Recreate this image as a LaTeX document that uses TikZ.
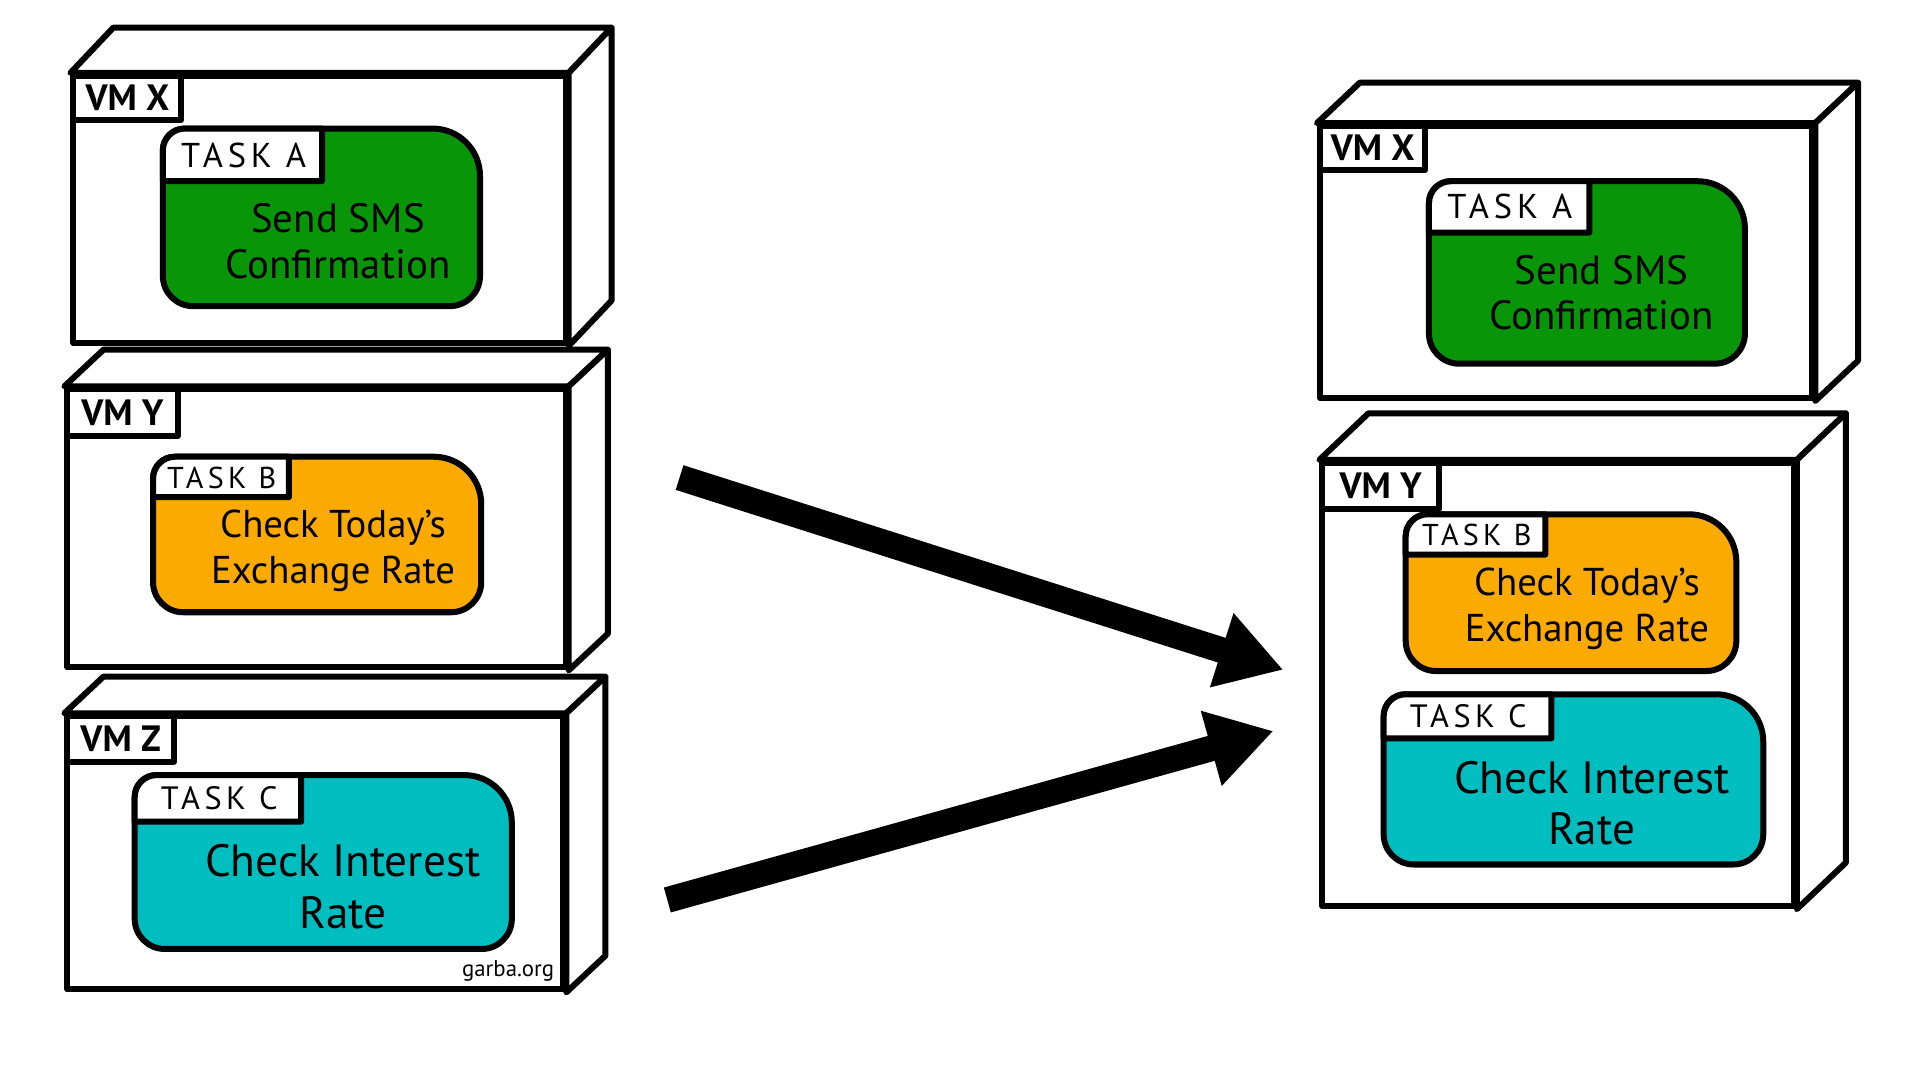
\documentclass[tikz,border=0pt]{standalone}
\usepackage{fontspec}
\setmainfont{PT Sans}
\newfontfamily\tabfont[LetterSpace=14]{PT Sans}
\usetikzlibrary{calc,fit,arrows.meta}
\definecolor{taskgreen}{RGB}{8,150,8}
\definecolor{taskorange}{RGB}{250,170,0}
\definecolor{taskcyan}{RGB}{0,190,192}
\tikzset{
  vmline/.style={draw=black, line width=1.4pt, line join=round, fill=white},
  vmface/.style={vmline, inner sep=0pt, rectangle},
  vmlabel/.style={vmline, anchor=north west, inner sep=0pt, font=\bfseries\fontsize{8.5}{10}\selectfont},
  blobbox/.style={inner sep=0pt, outer sep=0pt},
  blobline/.style={draw=black, line width=1.4pt, line join=round},
  tabline/.style={draw=black, line width=1.4pt, fill=white, line join=round},
  tabtext/.style={inner sep=0pt},
  tasktext/.style={align=center, inner sep=0pt},
  bigarrow/.style={line width=6pt, -{Triangle[length=15pt,width=17pt]}},
  credit/.style={font=\fontsize{5.3}{6}\selectfont, inner sep=0pt},
}
\newcommand\vmbox[4]{%
  \node[vmface, fit={#2 #3}] (#1) {};
  \draw[vmline] (#1.north west) -- ($(#1.north west)+#4$) -- ($(#1.north east)+#4$) -- (#1.north east) -- cycle;
  \draw[vmline] (#1.north east) -- ($(#1.north east)+#4$) -- ($(#1.south east)+#4$) -- (#1.south east) -- cycle;
}
\newcommand\taskblob[6]{%
  \node[blobbox, fit={#3 #4}] (#1) {};
  \draw[blobline, fill=#2] (#1.west) [rounded corners=5pt] -- (#1.north west) [rounded corners=11pt] -- (#1.north east) [rounded corners=7pt] -- (#1.south east) -- (#1.south west) -- cycle;
  \draw[tabline] ($(#1.north west)+(0,#6)$) -- ($(#1.north west)+(0,18)$) arc[start angle=180, end angle=270, radius=18] -- ($(#1.north west)+(#5,0)$) -- ($(#1.north west)+(#5,#6)$) -- cycle;
}
\begin{document}
\begin{tikzpicture}[x=0.01cm, y=-0.01cm]
\fill[white] (0,0) rectangle (1568,882);
\useasboundingbox (0,0) rectangle (1568,882);

% ---------- left column ----------
\vmbox{vmxL}{(60,62)}{(462,280)}{(35,-37)}
\node[vmlabel, minimum width=0.88cm, minimum height=0.36cm] (vmxLlab) at (vmxL.north west) {VM X};
\taskblob{taL}{taskgreen}{(133,105)}{(392,250)}{130}{43}
\node[tabtext, font=\tabfont\fontsize{8}{9}\selectfont] (taLtab) at ($(taL.north west)+(66,22)$) {TASK A};
\node[tasktext, font=\fontsize{9.5}{10.6}\selectfont] (taLtxt) at (276,197) {Send SMS\\Confirmation};

\vmbox{vmyL}{(55,318)}{(462,545)}{(32,-30)}
\node[vmlabel, minimum width=0.90cm, minimum height=0.38cm] (vmyLlab) at (vmyL.north west) {VM Y};
\taskblob{tbL}{taskorange}{(125,373)}{(393,500)}{111}{33}
\node[tabtext, font=\tabfont\fontsize{7}{8}\selectfont] (tbLtab) at ($(tbL.north west)+(56,17)$) {TASK B};
\node[tasktext, font=\fontsize{9}{10.8}\selectfont] (tbLtxt) at (272,450) {Check Today's\\Exchange Rate};

\vmbox{vmzL}{(55,585)}{(460,808)}{(32,-30)}
\node[vmlabel, minimum width=0.87cm, minimum height=0.37cm] (vmzLlab) at (vmzL.north west) {VM Z};
\taskblob{tcL}{taskcyan}{(110,633)}{(418,775)}{136}{38}
\node[tabtext, font=\tabfont\fontsize{7.5}{8.5}\selectfont] (tcLtab) at ($(tcL.north west)+(69,19)$) {TASK C};
\node[tasktext, font=\fontsize{10.5}{12}\selectfont] (tcLtxt) at (280,724) {Check Interest\\Rate};
\node[credit] (credit) at (415,793) {garba.org};

% ---------- right column ----------
\vmbox{vmxR}{(1078,103)}{(1480,325)}{(35,-33)}
\node[vmlabel, minimum width=0.86cm, minimum height=0.36cm] (vmxRlab) at (vmxR.north west) {VM X};
\taskblob{taR}{taskgreen}{(1167,148)}{(1425,297)}{131}{42}
\node[tabtext, font=\tabfont\fontsize{8}{9}\selectfont] (taRtab) at ($(taR.north west)+(66,21)$) {TASK A};
\node[tasktext, font=\fontsize{9.5}{10.6}\selectfont] (taRtxt) at (1308,239) {Send SMS\\Confirmation};

\vmbox{vmyR}{(1080,378)}{(1465,740)}{(40,-38)}
\node[vmlabel, minimum width=0.95cm, minimum height=0.38cm] (vmyRlab) at (vmyR.north west) {VM Y};
\taskblob{tbR}{taskorange}{(1148,420)}{(1418,548)}{114}{33}
\node[tabtext, font=\tabfont\fontsize{7}{8}\selectfont] (tbRtab) at ($(tbR.north west)+(58,17)$) {TASK B};
\node[tasktext, font=\fontsize{9}{10.8}\selectfont] (tbRtxt) at (1296,497) {Check Today's\\Exchange Rate};
\taskblob{tcR}{taskcyan}{(1130,567)}{(1440,706)}{137}{36}
\node[tabtext, font=\tabfont\fontsize{7.5}{8.5}\selectfont] (tcRtab) at ($(tcR.north west)+(69,18)$) {TASK C};
\node[tasktext, font=\fontsize{10.5}{12}\selectfont] (tcRtxt) at (1300,656) {Check Interest\\Rate};

% ---------- arrows ----------
\coordinate (a1s) at (555,390);
\coordinate (a1e) at (1048,547);
\coordinate (a2s) at (545,735);
\coordinate (a2e) at (1040,597);
\draw[bigarrow] (a1s) -- (a1e);
\draw[bigarrow] (a2s) -- (a2e);
\end{tikzpicture}
\end{document}
